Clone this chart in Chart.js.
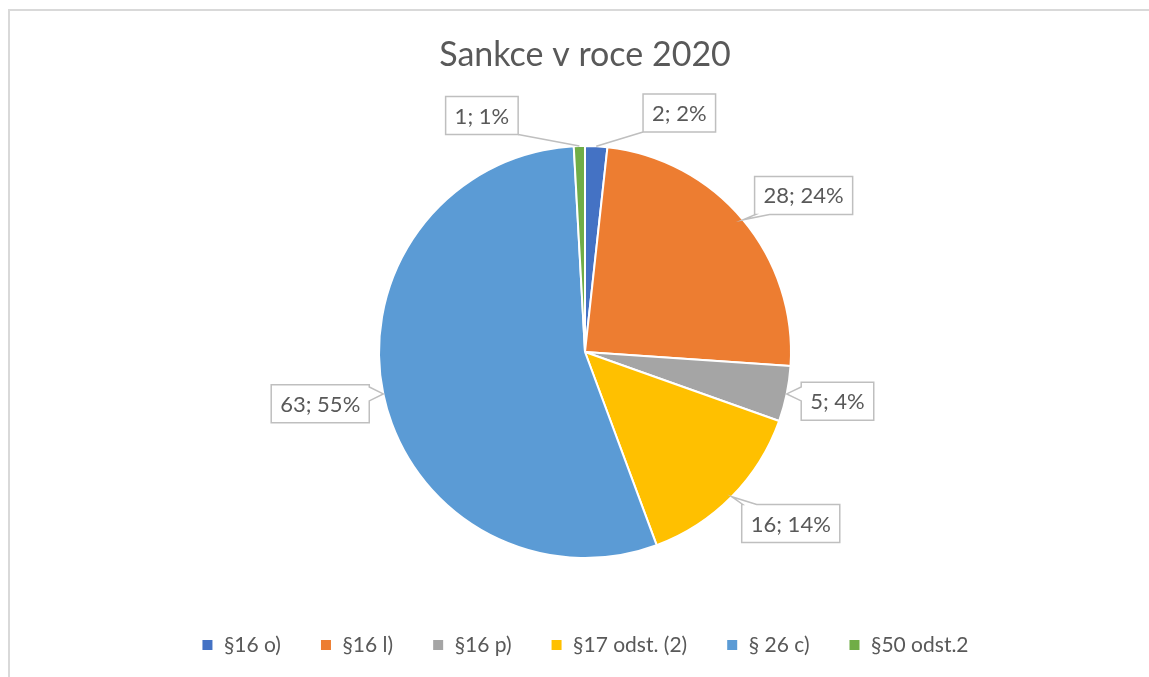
<!DOCTYPE html>
<html>
<head>
<meta charset="utf-8">
<script src="https://cdn.jsdelivr.net/npm/chart.js@4.4.1/dist/chart.umd.min.js"></script>
<style>
  html, body { margin: 0; padding: 0; background: #fff; overflow: hidden; }
  #ramecek { position: absolute; left: 8px; top: 9px; width: 1200px; height: 700px;
             border-top: 2px solid #d9d9d9; border-left: 2px solid #d9d9d9; }
  #sankce { position: absolute; left: 0; top: 0; }
</style>
</head>
<body>
<div id="ramecek"></div>
<canvas id="sankce" width="1149" height="677"></canvas>
<script>
var kategorie = ['§16 o)', '§16 l)', '§16 p)', '§17 odst. (2)', '§ 26 c)', '§50 odst.2'];
var pocty = [2, 28, 5, 16, 63, 1];
var barvy = ['#4472C4', '#ED7D31', '#A5A5A5', '#FFC000', '#5B9BD5', '#70AD47'];
var nadpis = 'Sankce v roce 2020';

// posun popisku ve stupnich, at se male vysece nahore neprekryvaji
var posunPopisku = [18.4, 4.3, -0.7, -4.8, 0.7, -22];

function omez(v, a, b) { return Math.max(a, Math.min(b, v)); }

// popisky "hodnota; procento" v rameckach s odkazem na vysec
var popisky = {
    id: 'popisky',
    afterDatasetsDraw: function (chart) {
        var ctx = chart.ctx;
        var meta = chart.getDatasetMeta(0);
        var total = pocty.reduce(function (a, b) { return a + b; }, 0);
        ctx.save();
        ctx.font = '22px Lato';
        ctx.lineWidth = 1.5;
        ctx.strokeStyle = '#BFBFBF';
        meta.data.forEach(function (arc, i) {
            var p = arc.getProps(['x', 'y', 'startAngle', 'endAngle', 'outerRadius'], true);
            var mid = (p.startAngle + p.endAngle) / 2;
            var ax = p.x + Math.cos(mid) * p.outerRadius;
            var ay = p.y + Math.sin(mid) * p.outerRadius;
            var podil = pocty[i] / total;
            var text = pocty[i] + '; ' + Math.round(podil * 100) + '%';
            var w = ctx.measureText(text).width + 18, h = 38;
            var a = mid + posunPopisku[i] * Math.PI / 180;
            var dx = Math.cos(a), dy = Math.sin(a);
            var mezera = podil < 0.03 ? 20 : 12;
            var dist = p.outerRadius + mezera + Math.abs(dx) * w / 2 + Math.abs(dy) * h / 2;
            var cx = p.x + dx * dist, cy = p.y + dy * dist;
            var x0 = cx - w / 2, x1 = cx + w / 2, y0 = cy - h / 2, y1 = cy + h / 2;

            var nx = (ax - cx) / (w / 2), ny = (ay - cy) / (h / 2);
            var side, px, py, c;
            if (Math.abs(nx) > Math.abs(ny)) {
                side = nx < 0 ? 'left' : 'right';
                px = nx < 0 ? x0 : x1;
                py = omez(ay, y0, y1);
                c = omez(ay, y0 + 8, y1 - 8);
            } else {
                side = ny < 0 ? 'top' : 'bottom';
                py = ny < 0 ? y0 : y1;
                px = omez(ax, x0, x1);
                c = omez(ax, x0 + 8, x1 - 8);
            }
            var d = Math.hypot(ax - px, ay - py);

            if (d >= 25) {
                // odkazova cara
                var lx = px, ly = py;
                if (side === 'top' || side === 'bottom') { lx = cx; }
                ctx.beginPath();
                ctx.moveTo(ax, ay);
                ctx.lineTo(lx, ly);
                ctx.stroke();
                side = null;
            }

            ctx.beginPath();
            ctx.moveTo(x0, y0);
            if (side === 'top') { ctx.lineTo(c - 7, y0); ctx.lineTo(ax, ay); ctx.lineTo(c + 7, y0); }
            ctx.lineTo(x1, y0);
            if (side === 'right') { ctx.lineTo(x1, c - 7); ctx.lineTo(ax, ay); ctx.lineTo(x1, c + 7); }
            ctx.lineTo(x1, y1);
            if (side === 'bottom') { ctx.lineTo(c + 7, y1); ctx.lineTo(ax, ay); ctx.lineTo(c - 7, y1); }
            ctx.lineTo(x0, y1);
            if (side === 'left') { ctx.lineTo(x0, c + 7); ctx.lineTo(ax, ay); ctx.lineTo(x0, c - 7); }
            ctx.closePath();
            ctx.fillStyle = '#FFFFFF';
            ctx.fill();
            ctx.stroke();

            ctx.fillStyle = '#595959';
            ctx.textAlign = 'center';
            ctx.textBaseline = 'middle';
            ctx.fillText(text, cx, cy + 1);
        });
        ctx.restore();
    }
};

Chart.defaults.font.family = 'Lato';

var ctx = document.getElementById('sankce').getContext('2d');
var graf = new Chart(ctx, {
    type: 'pie',
    data: {
        labels: kategorie,
        datasets: [{
            data: pocty,
            backgroundColor: barvy,
            borderColor: '#FFFFFF',
            borderWidth: 2,
            radius: 206
        }]
    },
    options: {
        responsive: false,
        animation: false,
        layout: {
            padding: { left: 21, right: 0, top: 0, bottom: 11.5 }
        },
        plugins: {
            title: {
                display: true,
                text: nadpis,
                color: '#595959',
                font: { family: 'Lato', size: 34, weight: 'normal' },
                padding: { top: 34.6, bottom: 33.1 }
            },
            legend: {
                position: 'bottom',
                labels: {
                    color: '#595959',
                    font: { family: 'Lato', size: 21 },
                    boxWidth: 12,
                    boxHeight: 12,
                    padding: 39
                }
            },
            tooltip: { enabled: false }
        }
    },
    plugins: [popisky]
});
</script>
</body>
</html>
